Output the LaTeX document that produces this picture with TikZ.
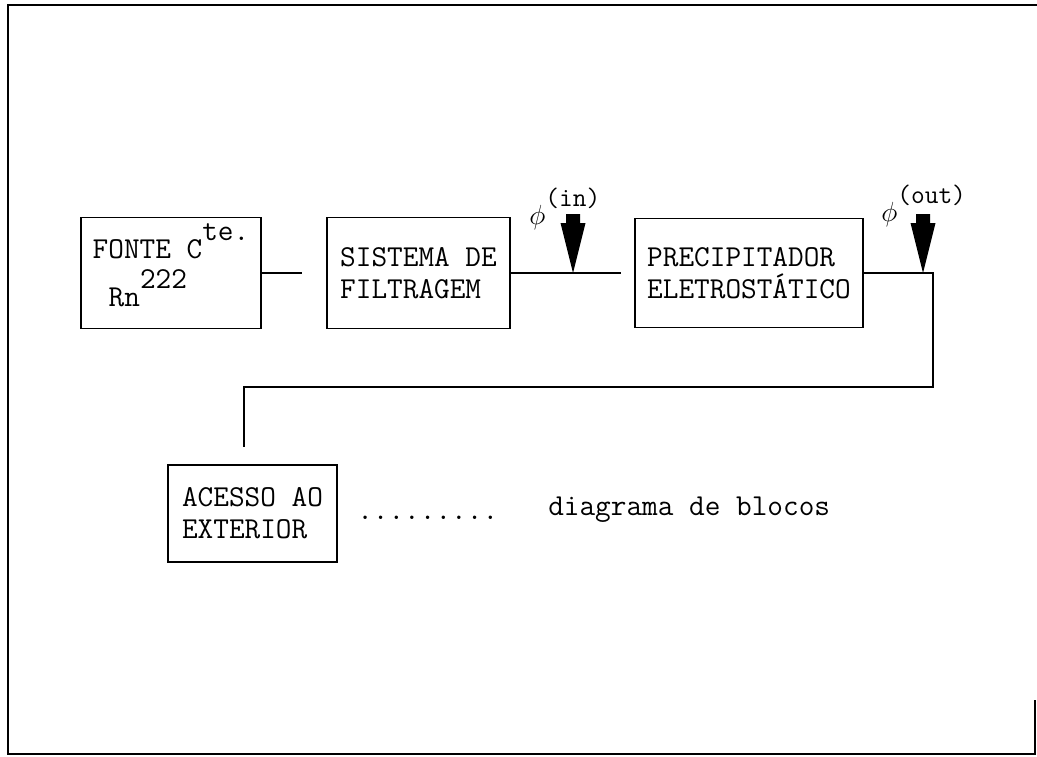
\documentclass[tikz,border=0pt]{standalone}
\usepackage{fontspec}
\usetikzlibrary{calc}
\tikzstyle{bloco} = [draw, line width=1.2pt, align=left, inner sep=0pt]
\tikzstyle{linha} = [line width=1.2pt]
\tikzstyle{rotulo} = [anchor=base west, inner sep=0pt]
\newcommand{\sobe}[1]{\smash{\raisebox{13pt}{#1}}}
\newcommand{\fluxo}[1]{\fill (#1) -- ++(12.5,-50) -- ++(-5.5,0) -- ++(0,-9) -- ++(-14,0) -- ++(0,9) -- ++(-5.5,0) -- cycle;}

\begin{document}
\begin{tikzpicture}[x=0.75pt, y=-0.75pt,
    every node/.style={font=\fontsize{22.8}{24}\selectfont\ttfamily}]
    \useasboundingbox (0,0) rectangle (1037,756);
    \draw[linha] (1035,700) -- (1035,754) -- (8,754) -- (8,5) -- (1037,5);

    \node[bloco, minimum width=135pt, minimum height=83pt] (fonte) at (171,273)
        {FONTE C\sobe{te.}\\[12pt]\hspace*{12pt}Rn\sobe{222}};
    \node[bloco, minimum width=137pt, minimum height=83pt] (filtro) at (418.5,273)
        {SISTEMA DE\\FILTRAGEM};
    \node[bloco, minimum width=171pt, minimum height=82pt] (precip) at (749,273)
        {PRECIPITADOR\\ELETROSTÁTICO};
    \node[bloco, minimum width=127pt, minimum height=73pt] (acesso) at (252.5,513.5)
        {ACESSO AO\\EXTERIOR};
    \node[rotulo] (pontos) at (357,519) {.........};
    \node[rotulo] (legenda) at (548,515) {diagrama de blocos};

    \node[rotulo, font=\fontsize{20}{20}\selectfont\ttfamily] (fiin) at (529,224)
        {$\phi$\sobe{(in)}};
    \node[rotulo, font=\fontsize{20}{20}\selectfont\ttfamily] (fiout) at (881,221)
        {$\phi$\sobe{(out)}};

    \coordinate (pin) at (573,273);
    \coordinate (pout) at (923,273);
    \coordinate (dobra) at (933,387);
    \coordinate (desce) at (244,447);

    \draw[linha, shorten >=18pt] (fonte) -- (filtro);
    \draw[linha, shorten >=10pt] (filtro) -- (precip);
    \draw[linha] (precip.east) -| (dobra) -| (desce);
    \fluxo{pin}
    \fluxo{pout}
\end{tikzpicture}
\end{document}
